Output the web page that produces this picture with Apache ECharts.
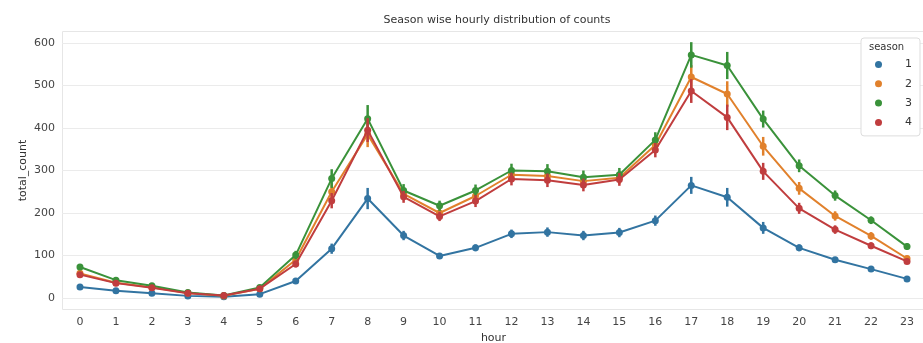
<!DOCTYPE html>
<html>
<head>
<meta charset="utf-8">
<script src="https://cdn.jsdelivr.net/npm/echarts@6/dist/echarts.min.js"></script>
<style>html,body{margin:0;padding:0;background:#fff}#c{width:923px;height:343px}</style>
</head>
<body>
<div id="c"></div>
<script>
var hours = ['0','1','2','3','4','5','6','7','8','9','10','11','12','13','14','15','16','17','18','19','20','21','22','23'];
var seasons = ['1','2','3','4'];
var s1 = [26,17,11,5,3,9,40,116,234,147,99,118,151,155,147,154,182,265,237,165,118,90,68,45];
var s2 = [58,36,25,12,5,22,90,250,385,245,200,240,290,287,275,283,360,520,480,357,258,193,146,93];
var s3 = [73,42,29,13,6,25,101,281,422,253,217,253,300,298,284,290,372,572,547,421,311,241,183,121];
var s4 = [55,35,24,11,6,22,80,229,395,238,192,228,280,277,266,279,348,487,425,298,211,161,123,86];
var e1 = [4,3,3,2,1,2,5,12,25,11,6,8,10,11,11,11,12,20,22,14,8,6,5,4];
var e2 = [6,5,4,2,1,3,9,20,30,15,12,14,15,16,16,15,18,28,30,22,15,11,9,7];
var e3 = [7,5,4,2,1,3,10,22,32,15,12,14,16,17,16,16,18,30,32,20,15,12,9,8];
var e4 = [6,4,4,2,1,3,8,18,28,14,11,14,15,16,15,15,17,28,30,20,13,10,8,6];
var yTicks = [0,100,200,300,400,500,600];
var colors = ['#3274a1','#e1812c','#3a923a','#c03d3e'];

var vals = [s1,s2,s3,s4];
var errs = [e1,e2,e3,e4];
var FONT = 'DejaVu Sans';

var series = [];
seasons.forEach(function(name, i){
  var col = colors[i];
  var ebData = hours.map(function(h, k){ return [k, vals[i][k] - errs[i][k], vals[i][k] + errs[i][k]]; });
  series.push({
    type: 'custom',
    name: name,
    data: ebData,
    z: 2 + i*2,
    silent: true,
    clip: false,
    renderItem: function(params, api){
      var x = api.value(0);
      var p1 = api.coord([x, api.value(1)]);
      var p2 = api.coord([x, api.value(2)]);
      return {type:'line', shape:{x1:p1[0], y1:p1[1], x2:p2[0], y2:p2[1]}, style:{stroke: col, lineWidth: 2.5}};
    },
    encode: {x: 0, y: [1,2]}
  });
  series.push({
    type: 'line',
    name: name,
    data: vals[i],
    z: 3 + i*2,
    symbol: 'circle',
    symbolSize: 7,
    showSymbol: true,
    clip: false,
    lineStyle: {color: col, width: 2},
    itemStyle: {color: col},
    emphasis: {disabled: true}
  });
});

var chart = echarts.init(document.getElementById('c'));
chart.setOption({
  animation: false,
  backgroundColor: '#fff',
  color: colors,
  title: {
    text: 'Season wise hourly distribution of counts',
    left: 492, top: 10, textAlign: 'center',
    textStyle: {fontFamily: FONT, fontSize: 11, fontWeight: 'normal', color: '#333'}
  },
  graphic: [
    {type:'rect', z: -1, silent: true, shape:{x:62.5, y:31.5, width:861, height:278}, style:{fill:'none', stroke:'#e6e6e6', lineWidth:1}},
    {type:'text', z: 100, left: 869, top: 42, style:{text:'season', fontFamily: FONT, fontSize: 10, fill:'#333'}}
  ],
  legend: {
    orient: 'vertical',
    right: 3, top: 38,
    data: seasons.map(function(s, i){ return {name: s, icon: 'circle', itemStyle:{color: colors[i]}}; }),
    itemWidth: 7, itemHeight: 7, itemGap: 8.3,
    padding: [21, 8, 8, 14],
    backgroundColor: '#fff',
    borderColor: '#dddddd', borderWidth: 1, borderRadius: 3,
    textStyle: {fontFamily: FONT, fontSize: 11, color: '#333', padding: [0,0,0,18]}
  },
  grid: {left: 62, right: -2, top: 43, bottom: 45, containLabel: false, outerBoundsMode: 'none'},
  xAxis: {
    type: 'category',
    data: hours,
    boundaryGap: true,
    name: 'hour', nameLocation: 'middle', nameGap: 35,
    nameMoveOverlap: false,
    nameTextStyle: {fontFamily: FONT, fontSize: 11, color: '#333'},
    axisLine: {show: false},
    axisTick: {show: false},
    axisLabel: {fontFamily: FONT, fontSize: 11, color: '#444', margin: 19, interval: 0},
    splitLine: {show: false}
  },
  yAxis: {
    type: 'value',
    min: yTicks[0], max: yTicks[yTicks.length-1], interval: 100,
    name: 'total_count', nameLocation: 'middle', nameGap: 33,
    nameMoveOverlap: false,
    nameTextStyle: {fontFamily: FONT, fontSize: 11, color: '#333'},
    axisLine: {show: false},
    axisTick: {show: false},
    axisLabel: {fontFamily: FONT, fontSize: 11, color: '#444', margin: 7},
    splitLine: {lineStyle: {color: '#ebebeb', width: 1}}
  },
  series: series
});
</script>
</body>
</html>
